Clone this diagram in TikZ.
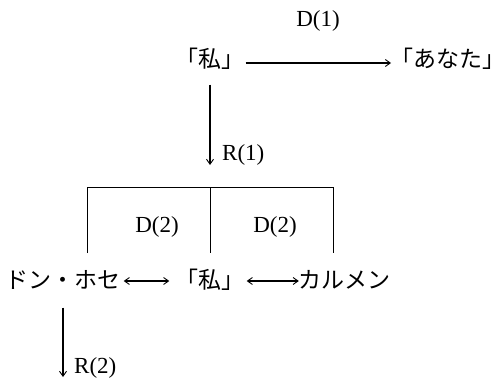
\documentclass[tikz,border=0pt]{standalone}
\usepackage{fontspec}
\setmainfont{Liberation Serif}
\newfontfamily\jp{Noto Sans CJK JP}
\usetikzlibrary{arrows.meta}
\tikzset{
  jtext/.style={inner sep=0pt, font=\jp\fontsize{23}{28}\selectfont, text height=20pt, text depth=3pt},
  ltext/.style={inner sep=0pt, font=\fontsize{23}{27}\selectfont},
  tip/.style={-{Straight Barb[length=5pt,width=7pt,line width=0.9pt]}},
  bitip/.style={{Straight Barb[length=5pt,width=7pt,line width=0.9pt]}-{Straight Barb[length=5pt,width=7pt,line width=0.9pt]}},
  conn/.style={line width=1.1pt},
  brk/.style={line width=0.8pt}
}
\begin{document}
\begin{tikzpicture}[x=1pt,y=-1pt]
\useasboundingbox (0,0) rectangle (504,380);
% top row
\node[jtext] (me1) at (210,59) {「私」};
\node[jtext] (you) at (442,59) {「あなた\makebox[0.5em][l]{」}};
\node[ltext] (d1) at (318,21) {D(1)};
\draw[conn,tip] ([xshift=1pt,yshift=-4pt]me1.east) -- ([xshift=1pt,yshift=-4pt]you.west);
% R(1)
\coordinate (r1) at (210,165);
\draw[conn,tip] ([yshift=-14pt]me1.south) -- (r1);
\node[ltext,anchor=west] (r1l) at (222,155) {R(1)};
% bottom row
\node[jtext] (jose) at (63,280) {ドン・ホセ};
\node[jtext] (me2) at (210,280) {「私」};
\node[jtext] (carmen) at (344,280) {カルメン};
\draw[conn,bitip] ([xshift=3pt,yshift=-1pt]jose.east) -- ([xshift=-6pt,yshift=-1pt]me2.west);
\draw[conn,bitip] ([xshift=2pt,yshift=-1pt]me2.east) -- ([xshift=1pt,yshift=-1pt]carmen.west);
% bracket
\coordinate (bl) at (87,253);
\coordinate (tl) at (87,187);
\coordinate (tm) at (210,187);
\coordinate (bm) at (210,253);
\coordinate (tr) at (333,187);
\coordinate (br) at (333,253);
\draw[brk] (bl) -- (tl) -- (tr) -- (br);
\draw[brk] (tm) -- (bm);
\node[ltext] (d2a) at (157,227) {D(2)};
\node[ltext] (d2b) at (275,227) {D(2)};
% R(2)
\coordinate (r2) at (63,377);
\draw[conn,tip] ([yshift=-16pt]jose.south) -- (r2);
\node[ltext,anchor=west] (r2l) at (74,368) {R(2)};
\end{tikzpicture}
\end{document}
